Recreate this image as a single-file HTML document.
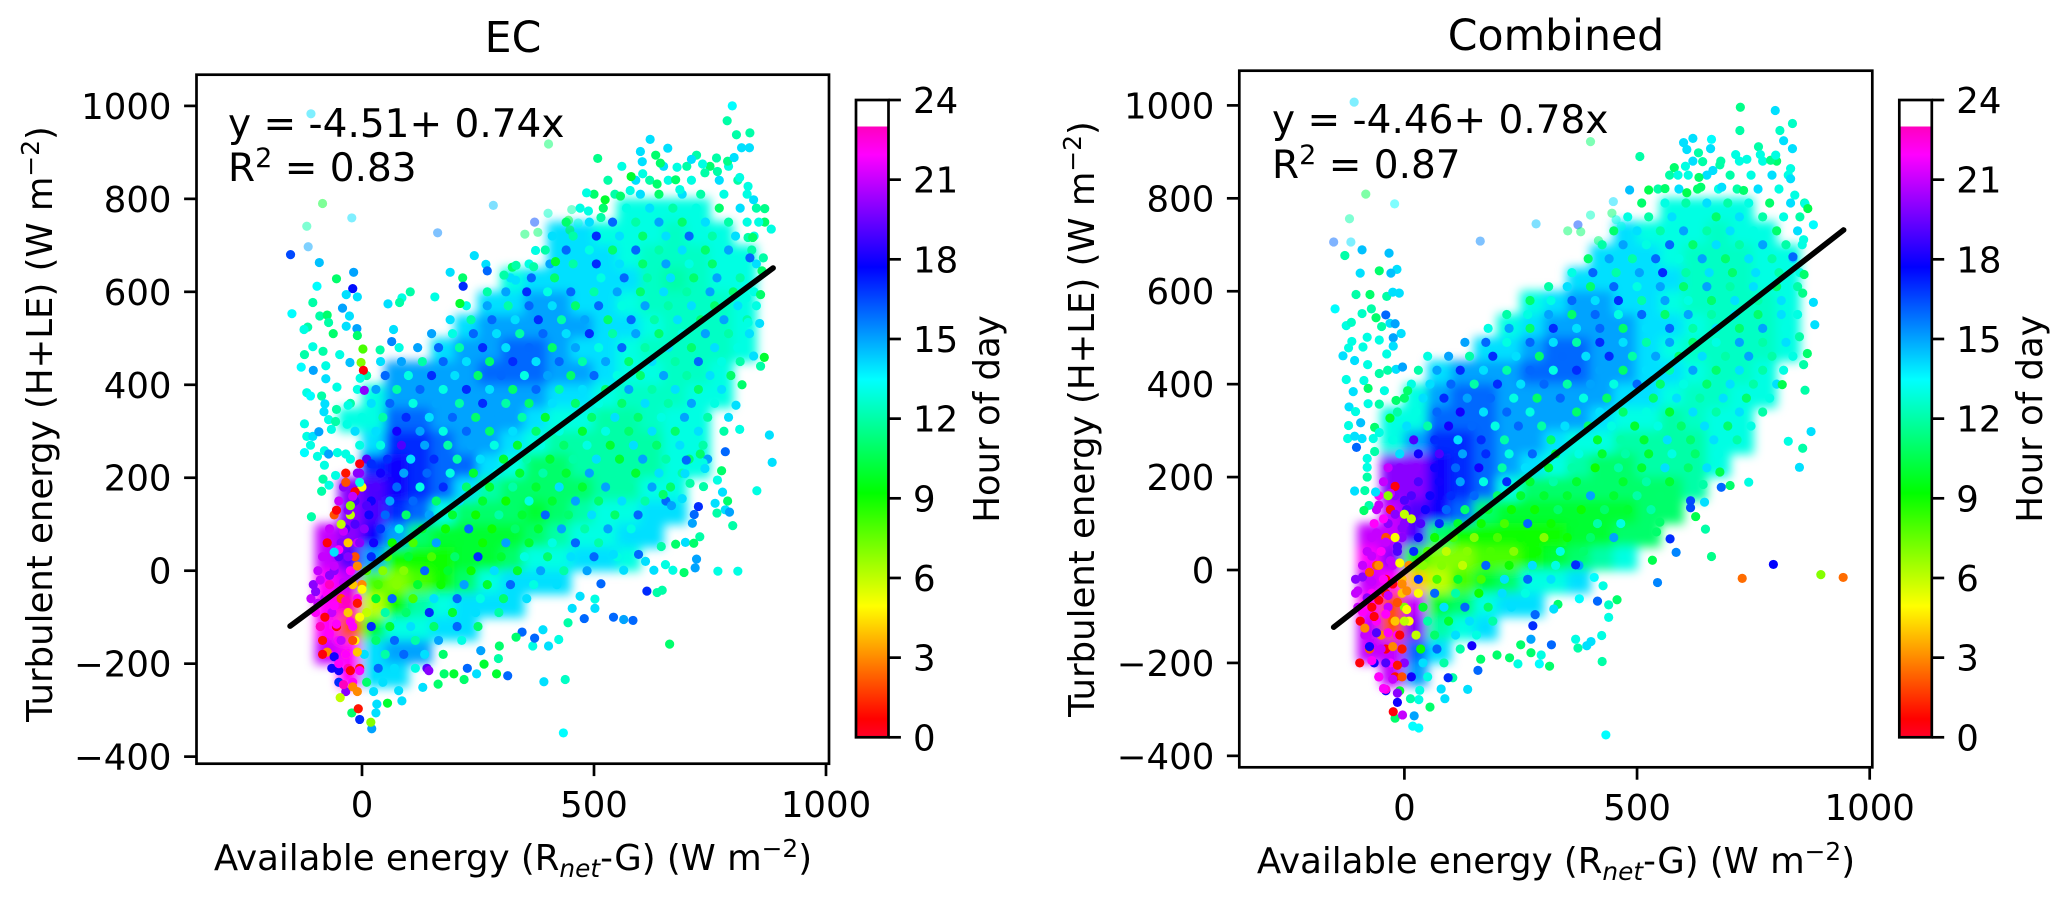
<!DOCTYPE html>
<html><head><meta charset="utf-8"><title>Energy balance closure</title>
<style>
html,body{margin:0;padding:0;background:#fff}
svg{display:block}
text{font-family:"DejaVu Sans","Liberation Sans",sans-serif;fill:#000}
.t{font-size:35.5px}.ti{font-size:42.6px}.an{font-size:39px}
</style></head><body>
<svg id="fig" xmlns="http://www.w3.org/2000/svg" width="2067" height="898" viewBox="0 0 2067 898">
<defs>
<filter id="soft" x="-5%" y="-5%" width="110%" height="110%"><feGaussianBlur stdDeviation="5"/></filter>
<linearGradient id="cmapGrad" x1="0" y1="1" x2="0" y2="0"></linearGradient>
</defs>
<g id="layer-ec"></g>
<g id="layer-combined"></g>
<text class="ti" x="513" y="52" text-anchor="middle">EC</text>
<text class="ti" x="1556" y="50" text-anchor="middle">Combined</text>
<text class="an" x="228" y="137">y = -4.51+ 0.74x</text>
<text class="an" x="228" y="181">R<tspan dy="-14" font-size="27">2</tspan><tspan dy="14"> = 0.83</tspan></text>
<text class="an" x="1272" y="133">y = -4.46+ 0.78x</text>
<text class="an" x="1272" y="178">R<tspan dy="-14" font-size="27">2</tspan><tspan dy="14"> = 0.87</tspan></text>
<text class="t" x="513" y="870" text-anchor="middle">Available energy (R<tspan dy="7" font-size="24.8" font-style="italic">net</tspan><tspan dy="-7">-G) (W m</tspan><tspan dy="-13" font-size="24.8">−2</tspan><tspan dy="13">)</tspan></text>
<text class="t" x="1556" y="873" text-anchor="middle">Available energy (R<tspan dy="7" font-size="24.8" font-style="italic">net</tspan><tspan dy="-7">-G) (W m</tspan><tspan dy="-13" font-size="24.8">−2</tspan><tspan dy="13">)</tspan></text>
<text class="t" transform="translate(52,424) rotate(-90)" text-anchor="middle">Turbulent energy (H+LE) (W m<tspan dy="-13" font-size="24.8">−2</tspan><tspan dy="13">)</tspan></text>
<text class="t" transform="translate(1094,419) rotate(-90)" text-anchor="middle">Turbulent energy (H+LE) (W m<tspan dy="-13" font-size="24.8">−2</tspan><tspan dy="13">)</tspan></text>
<text class="t" transform="translate(999,419) rotate(-90)" text-anchor="middle">Hour of day</text>
<text class="t" transform="translate(2042,419) rotate(-90)" text-anchor="middle">Hour of day</text>
</svg>
<script>
const n=null;
const xTicks=[0,500,1000];
const yTicks=[-400,-200,0,200,400,600,800,1000];
const hourTicks=[0,3,6,9,12,15,18,21,24];
const hourMax=[23];
const ecFit=[-4.51,0.74];
const ecFitRange=[-155,886];
const combinedFit=[-4.46,0.78];
const combinedFitRange=[-152,944];
const gridX=[-125,-75,-25,25,75,125,175,225,275,325,375,425,475,525,575,625,675,725,775,825,875];
const gridY=[775,725,675,625,575,525,475,425,375,325,275,225,175,125,75,25,-25,-75,-125,-175,-225];
const ecDensityHours=[
[n,n,n,n,n,n,n,n,n,n,n,n,n,n,13,13,13,13,n,n,n],
[n,n,n,n,n,n,n,n,n,n,n,14,14,13,13,13,12.5,13,13,n,n],
[n,n,n,n,n,n,n,n,n,n,n,14,14,14,13,12.5,12.5,12.5,13,13,n],
[n,n,n,n,n,n,n,n,n,13,14,14,14,14,14,12.5,12,12.5,13,13,n],
[n,n,n,n,n,n,n,n,14,14,15,15,14,14,13,12.5,12.5,12.5,12.5,13,n],
[n,n,n,n,n,n,n,14,15,15,15,15,15,14,14,13,12.5,12.5,12.5,13,n],
[n,n,n,n,n,n,14,15,15,16,16,15,14,14,13,12.5,12.5,12.5,12.5,13,n],
[n,n,n,n,15,15,15,15,16,16,16,15,15,14,13,13,12.5,12.5,13,n,n],
[n,n,n,13,15,15,15,15,15,15,15,14,14,13,12.5,12.5,12.5,13,13,n,n],
[n,n,13,13,16,16,15,15,15,15,14,13,13,12,12,12.5,13,13,n,n,n],
[n,n,n,14,17,17,16,15,15,14,13,12,12,12,12,12,13,13,n,n,n],
[n,n,n,17,18,17,16,16,14,13,11,11,12,12,12,12,13,13,n,n,n],
[n,n,20,19,18,17,16,14,12,11,11,11,11,12,12,13,13,n,n,n,n],
[n,n,20,19,17,16,13,11,11,11,10,11,12,13,13,14,14,n,n,n,n],
[n,21,20,18,15,11,10,10,10,10,11,12,13,13,14,14,n,n,n,n,n],
[n,21,19,15,9,9,9,10,10,11,13,13,14,14,13,n,n,n,n,n,n],
[n,22,21,8,7,8,9,11,13,14,14,14,n,n,n,n,n,n,n,n,n],
[n,22,23,6,9,12,13,14,14,14,n,n,n,n,n,n,n,n,n,n,n],
[n,22,2,10,13,13,14,14,n,n,n,n,n,n,n,n,n,n,n,n,n],
[n,21,22,14,15,15,n,n,n,n,n,n,n,n,n,n,n,n,n,n,n],
[n,n,22,14,14,n,n,n,n,n,n,n,n,n,n,n,n,n,n,n,n]];
const combinedDensityHours=[
[n,n,n,n,n,n,n,n,n,n,n,n,n,n,13,13,13,13,n,n,n],
[n,n,n,n,n,n,n,n,n,n,n,n,14,13,13,13,12.5,13,13,n,n],
[n,n,n,n,n,n,n,n,n,n,n,14,14,14,13,12.5,12.5,12.5,13,13,n],
[n,n,n,n,n,n,n,n,n,n,14,14,14,14,14,12.5,12.5,12.5,13,13,n],
[n,n,n,n,n,n,n,n,13,14,15,15,14,14,13,12.5,12.5,12.5,12.5,13,n],
[n,n,n,n,n,n,n,13,14,15,15,15,15,14,14,13,12.5,12.5,12.5,13,n],
[n,n,n,n,n,n,14,14,15,16,16,15,15,14,13,12.5,12.5,12.5,12.5,13,n],
[n,n,n,n,14,15,15,15,16,16,16,15,15,14,14,13,12.5,12.5,13,n,n],
[n,n,n,13,15,16,16,15,15,15,15,15,14,14,13,12.5,12.5,13,13,n,n],
[n,n,13,13,16,16,16,15,15,15,15,14,13,13,12,12.5,13,13,n,n,n],
[n,n,13,15,17,17,16,15,15,14,13,13,12,12,12,12,13,13,n,n,n],
[n,n,20,20,18,17,16,15,14,13,12,11,11,12,12,12,13,n,n,n,n],
[n,n,20,20,18,17,16,13,11,11,11,11,11,11,11,12,n,n,n,n,n],
[n,n,21,19,18,16,11,10,10,10,10,10,10,11,11,n,n,n,n,n,n],
[n,21,21,19,11,9,9,9,9,9,10,10,11,11,n,n,n,n,n,n,n],
[n,22,20,9,7,7,8,8,9,10,11,12,13,n,n,n,n,n,n,n,n],
[n,21,22,4,6,8,10,11,13,13,14,n,n,n,n,n,n,n,n,n,n],
[n,22,2,21,10,11,13,14,14,n,n,n,n,n,n,n,n,n,n,n,n],
[n,21,2,20,12,13,14,n,n,n,n,n,n,n,n,n,n,n,n,n,n],
[n,21,21,16,14,n,n,n,n,n,n,n,n,n,n,n,n,n,n,n,n],
[n,n,21,15,n,n,n,n,n,n,n,n,n,n,n,n,n,n,n,n,n]];
const ecFaintPoints=[[-110,983,14],[-85,790,10],[-22,759,14],[-119,741,12],[-116,697,15],[283,786,14.5],[163,727,15.5],[372,750,16.5],[401,769,12.5],[402,918,11],[351,724,11],[379,728,11],[445,754,10],[448,733,10],[452,777,12],[466,748,13]];
const combinedFaintPoints=[[-108,1007,14],[-83,809,10.5],[-21,788,13.5],[-118,756,12],[-152,706,16],[-115,706,14],[163,708,15.5],[283,745,14.5],[373,743,16.5],[400,922,11],[400,764,12.5],[449,793,14],[446,768,11],[455,754,13],[351,730,11],[379,728,11],[417,709,11],[466,740,13]];
const ecFillPoints=[
[560,870,13],[650,870,14],[700,870,12],[750,870,11],[790,870,13],
[530,840,12],[590,840,14],[620,840,12],[660,840,13],[710,840,13],[770,840,14],[810,840,12],
[500,810,11],[545,810,12],[600,810,14],[640,810,11],[690,810,14],[730,810,12],[780,810,13],[830,810,13],
[470,780,13],[520,780,11],[570,780,13],[620,780,14],[670,780,12],[720,780,13],[770,780,11],[815,780,14],[850,780,12],
[440,750,11],[490,750,14],[540,750,16],[590,750,12],[640,750,15],[690,750,11],[740,750,14],[790,750,12],[830,750,13],
[410,720,14],[455,720,12],[505,720,17],[555,720,14],[605,720,11],[655,720,14],[705,720,16],[755,720,12],[805,720,14],[845,720,13],
[395,690,12],[440,690,16],[490,690,13],[540,690,11],[590,690,16],[640,690,12],[690,690,14],[740,690,11],[790,690,15],[840,690,12],
[360,660,13],[405,660,15],[455,660,12],[505,660,17],[555,660,14],[605,660,11],[655,660,15],[705,660,13],[755,660,11],[805,660,13],[850,660,14],
[320,630,14],[365,630,16],[415,630,11],[465,630,14],[515,630,13],[565,630,16],[615,630,12],[665,630,14],[715,630,11],[765,630,15],[815,630,12],
[270,600,12],[310,600,15],[355,600,17],[400,600,13],[450,600,16],[500,600,12],[550,600,15],[600,600,11],[650,600,14],[700,600,12],[750,600,15],[800,600,11],[845,600,13],
[225,570,13],[270,570,15],[315,570,12],[360,570,16],[410,570,14],[460,570,11],[510,570,16],[560,570,13],[610,570,15],[660,570,12],[710,570,14],[760,570,11],[810,570,14],[850,570,13],
[190,540,14],[235,540,12],[280,540,16],[330,540,14],[380,540,17],[430,540,12],[480,540,15],[530,540,11],[580,540,16],[630,540,12],[680,540,14],[730,540,11],[780,540,15],[830,540,12],
[150,510,15],[195,510,13],[240,510,16],[290,510,14],[340,510,12],[390,510,16],[440,510,14],[490,510,17],[540,510,12],[590,510,15],[640,510,11],[690,510,13],[740,510,15],[790,510,12],[835,510,14],
[80,480,13],[120,480,15],[165,480,16],[210,480,12],[260,480,17],[310,480,14],[360,480,16],[410,480,11],[460,480,15],[510,480,13],[560,480,16],[610,480,12],[660,480,14],[710,480,11],[760,480,14],[810,480,13],
[40,450,14],[85,450,15],[130,450,12],[175,450,16],[225,450,14],[275,450,11],[325,450,17],[375,450,14],[425,450,16],[475,450,12],[525,450,15],[575,450,11],[625,450,14],[675,450,12],[725,450,16],[775,450,13],[815,450,12],
[10,420,12],[50,420,16],[100,420,13],[150,420,17],[200,420,14],[250,420,11],[300,420,16],[350,420,13],[400,420,15],[450,420,11],[500,420,16],[550,420,13],[600,420,11],[650,420,15],[700,420,12],[750,420,14],[795,420,11],
[-10,390,13],[30,390,15],[75,390,12],[125,390,16],[175,390,13],[225,390,17],[275,390,14],[325,390,11],[375,390,16],[425,390,12],[475,390,14],[525,390,11],[575,390,15],[625,390,12],[675,390,14],[725,390,11],[775,390,14],
[-25,360,12],[20,360,14],[60,360,16],[110,360,13],[160,360,15],[210,360,12],[260,360,17],[310,360,12],[360,360,11],[410,360,14],[460,360,11],[510,360,13],[560,360,11],[610,360,14],[660,360,12],[710,360,15],[760,360,13],
[0,330,13],[45,330,12],[95,330,17],[145,330,14],[195,330,16],[245,330,11],[295,330,15],[345,330,12],[395,330,10],[445,330,13],[495,330,11],[545,330,14],[595,330,11],[645,330,13],[695,330,15],[745,330,12],[790,330,14],
[-15,300,14],[30,300,14],[75,300,18],[125,300,15],[175,300,13],[225,300,16],[275,300,11],[325,300,14],[375,300,11],[425,300,13],[475,300,10],[525,300,13],[575,300,11],[625,300,14],[675,300,11],[725,300,14],[780,300,12],
[-5,270,13],[40,270,13],[85,270,19],[135,270,15],[185,270,12],[235,270,15],[285,270,13],[335,270,10],[385,270,13],[435,270,11],[485,270,13],[535,270,10],[585,270,14],[635,270,11],[685,270,14],[735,270,12],
[-25,240,13],[10,240,19],[55,240,17],[105,240,14],[155,240,17],[205,240,12],[255,240,14],[305,240,10],[355,240,12],[405,240,10],[455,240,12],[505,240,14],[555,240,10],[605,240,15],[655,240,12],[705,240,11],[745,240,15],
[-35,210,1],[-5,210,20],[40,210,18],[90,210,15],[140,210,16],[190,210,13],[240,210,10],[290,210,13],[340,210,10],[390,210,12],[440,210,10],[490,210,15],[540,210,12],[590,210,10],[640,210,14],[690,210,12],
[-40,180,20],[0,180,5],[30,180,19],[75,180,16],[125,180,13],[175,180,17],[225,180,11],[275,180,10],[325,180,12],[375,180,10],[425,180,14],[475,180,10],[525,180,15],[575,180,12],[625,180,15],[665,180,11],
[-50,150,21],[-15,150,19],[20,150,18],[60,150,15],[110,150,16],[160,150,11],[210,150,14],[260,150,10],[310,150,9],[360,150,13],[410,150,10],[460,150,15],[510,150,11],[560,150,14],[610,150,12],[655,150,16],
[-60,120,2],[-25,120,6],[15,120,18],[50,120,16],[95,120,11],[145,120,15],[195,120,10],[245,120,9],[295,120,12],[345,120,10],[395,120,16],[445,120,11],[495,120,14],[545,120,11],[595,120,16],
[-70,90,21],[-35,90,19],[5,90,20],[40,90,17],[80,90,13],[130,90,10],[180,90,9],[230,90,16],[280,90,9],[330,90,11],[380,90,10],[430,90,15],[480,90,12],[530,90,15],[580,90,13],
[-75,60,0.5],[-45,60,20],[-10,60,21],[25,60,18],[65,60,9],[110,60,8],[160,60,15],[210,60,10],[260,60,9],[310,60,15],[360,60,10],[410,60,13],[460,60,16],[510,60,12],
[-85,30,21],[-50,30,19],[-15,30,2],[20,30,17],[55,30,8],[100,30,10],[150,30,8],[200,30,11],[250,30,17],[300,30,10],[350,30,13],[400,30,11],[450,30,14],[500,30,16],[550,30,13],
[-95,0,21],[-60,0,20],[-25,0,22],[10,0,8],[45,0,7],[90,0,7],[135,0,16],[185,0,10],[235,0,9],[285,0,14],[335,0,10],[385,0,15],[435,0,12],[485,0,15],
[-105,-30,20],[-70,-30,23],[-35,-30,21],[0,-30,3],[35,-30,8],[75,-30,7],[120,-30,10],[170,-30,9],[220,-30,15],[270,-30,10],[320,-30,16],[370,-30,13],[420,-30,14],
[-110,-60,21],[-80,-60,21],[-45,-60,2],[-10,-60,22],[30,-60,10],[65,-60,16],[110,-60,8],[155,-60,14],[205,-60,16],[255,-60,13],[305,-60,11],[355,-60,14],
[-100,-90,22],[-65,-90,21],[-30,-90,4],[10,-90,6],[50,-90,12],[95,-90,11],[145,-90,17],[195,-90,10],[245,-90,14],[295,-90,12],
[-90,-120,23],[-55,-120,0.5],[-20,-120,22],[20,-120,17],[60,-120,10],[105,-120,14],[155,-120,11],[205,-120,16],[250,-120,11],
[-85,-150,1],[-50,-150,22],[-15,-150,5],[30,-150,11],[70,-150,16],[115,-150,12],[165,-150,15],[215,-150,13],
[-70,-180,22],[-35,-180,4],[5,-180,14],[50,-180,12],[90,-180,16],[135,-180,14],[175,-180,11],
[-65,-210,18],[-30,-210,23],[-5,-210,1],[35,-210,16],[70,-210,14],[115,-210,13],[140,-210,19],
[-50,-240,17],[-20,-240,22],[10,-240,11],[45,-240,14],[-35,-260,20],[-10,-260,3],[25,-260,14]];
const ecPoints=[
[-154,680,16.5],[-92,663,14.5],[-18,642,15],[-55,628,11],[-20,607,17.5],[-97,612,13.5],[-34,594,14],[-10,589,14],[-106,577,12],[-42,565,15],[-27,548,14],[-151,553,13.5],[-91,548,12],[-75,550,11],[-72,534,12],[-117,524,12],[-125,519,13],[-34,526,14],[-11,521,15],[-62,510,11],[-10,506,11],[-106,482,13],[-84,472,12],[-124,465,12],[-48,465,13],[2,477,8],[39,475,12],[64,493,15.5],[68,519,14],[-2,448,7],[3,431,0.5],[-131,438,13.5],[-105,431,15],[-78,441,13],[-26,448,14.5],[-78,413,14],[-119,383,13],[-111,376,13.5],[-87,376,12],[-54,395,13],[-4,414,13],[5,388,20],[-80,359,14],[-30,356,13],[-82,342,14],[-72,325,13],[-124,316,13],[-55,347,12],[-32,315,13],[-57,321,12],[-119,289,13],[-106,289,14],[-93,299,15],[-66,304,13],[-124,254,13.5],[-111,270,13],[-96,246,13],[-81,258,13],[-72,251,15],[-81,227,13],[-53,254,13],[-35,251,13],[-84,197,12],[-87,171,12],[-71,184,13],[-57,205,13],[-109,116,12],
[104,600,12],[86,587,13],[81,577,12],[56,574,14],[157,589,13],[190,642,14],[217,630,11],[218,612,17],[211,575,10],[242,678,14],[267,659,14],[270,645,16],[306,636,12],[324,653,11],[332,657,12],[331,625,14],[374,689,13],[370,654,12],[417,665,10],[484,813,13],[508,887,11.5],[621,928,14],[798,1000,13.5],[787,968,12],[807,938,12],[836,942,12],[818,910,14],[835,910,14],[659,909,14],[600,902,14],[604,880,14],[633,894,11],[643,877,11],[721,894,12],[710,885,14],[764,888,12],[734,875,13],[788,881,11.5],[802,889,14],[679,868,13],[580,848,10],[605,854,13],[636,832,11],[676,841,11],[685,820,13],[766,859,12],[739,856,12],[814,846,13],[524,798,10],[557,806,11],[578,818,13],[488,774,13],[515,760,12],
[882,735,13],[868,779,11.5],[868,750,11],[844,798,14],[832,827,13],[832,717,12],[865,673,12],[836,673,16],[862,645,11],[859,594,11],[855,750,13],[842,717,11],[828,587,13],[832,534,13],[857,532,14],[844,462,14],[867,459,10],[859,440,12],[819,400,11],[806,356,14],[814,304,13],[878,292,14],[884,233,14],[851,172,13],
[783,256,16],[699,238,16],[775,215,11],[729,251,11],[735,232,13],[739,220,14],[696,209,14],[707,188,12],[736,181,12],[766,195,13],[777,169,14],[761,145,14],[788,150,11],[783,131,14],[765,124,12],[792,126,15],[799,97,12],[728,73,12],[716,121,16],[725,138,17],[712,102,15],[690,155,14],[667,140,15],[649,164,11],[697,61,14],[715,59,11],[676,57,11],[645,52,12],[721,25,15],[718,6,15],[694,-4,11],[670,1,13],[654,13,13],[629,1,14],[611,20,14],[596,35,16],[767,-1,13],[810,-1,13],[614,-44,17],[647,-42,12],[636,-47,12],[663,-158,11],[564,1,14],[542,35,14],[542,-100,16],[564,-105,15],[584,-107,16],[515,-28,16],[502,-61,13],[479,-103,16],[502,-81,14],[453,-81,14],[470,-55,14],[444,-112,12],[424,-148,13],[402,-162,14],[368,-162,13],[372,-145,16],[390,-127,14],[345,-132,16],[332,-143,11],[296,-162,11],[290,-222,10],[314,-226,16],[263,-201,10],[294,-189,12],[392,-239,14],[438,-234,12.5],[434,-349,13.5],[220,-234,11],[247,-222,14],[198,-222,10],[177,-222,11],[164,-244,11],[144,-215,20],[86,-280,14],[55,-285,10],[131,-251,14],[79,-258,14],[32,-287,14],[30,-306,14],[21,-340,15],[19,-326,7],[-5,-320,17],[-22,-306,11],[-8,-297,1],[-47,-273,6],[227,-210,16],[256,-172,15],
[-15,170,0.5],[-5,190,13],[-30,130,20],[-15,100,19],[-40,85,21],[10,140,19],[-5,60,20],[-50,45,22],[-30,30,20],[-10,10,3],[-60,10,21],[-70,-10,20],[-90,-20,21],[-100,-45,20],[-75,-50,22],[-40,-25,21],[-20,-30,4],[0,-40,5],[-95,-70,21],[-60,-75,22],[-35,-65,23],[-10,-70,1],[-80,-100,0.5],[-55,-115,22],[-25,-110,22],[-5,-100,5],[-70,-135,22],[-45,-150,21],[-20,-150,2],[-75,-175,3],[-60,-185,18],[-35,-180,22],[-10,-175,4],[-85,-180,0.5],[-50,-215,18],[-25,-215,0.5],[-5,-215,22],[-40,-245,23],[-20,-250,3],[-50,-200,22],[-60,40,14],[-30,60,4],[-45,100,6],[-55,130,0.5],[-20,160,21],[-35,190,2],[-10,210,20],[-5,230,0.5],[20,230,17],[-25,140,7]];
const combinedFillPoints=[
[620,880,14],[680,880,12],[720,880,13],[770,880,13],[800,880,11],
[570,850,12],[610,850,13],[650,850,14],[700,850,12],[745,850,13],[790,850,14],[825,850,13],
[545,820,12],[590,820,14],[630,820,11],[675,820,13],[715,820,12],[760,820,14],[805,820,13],
[510,790,11],[560,790,13],[605,790,12],[650,790,14],[695,790,12],[740,790,13],[785,790,11],[830,790,14],[860,790,12],
[480,760,13],[525,760,12],[575,760,14],[625,760,13],[670,760,11],[720,760,14],[770,760,12],[815,760,13],[850,760,12],
[450,730,11],[500,730,14],[550,730,12],[600,730,15],[650,730,12],[700,730,14],[750,730,13],[800,730,11],[845,730,14],
[425,700,12],[470,700,15],[520,700,13],[570,700,16],[620,700,11],[670,700,14],[720,700,12],[770,700,15],[820,700,12],[855,700,13],
[395,670,11],[440,670,15],[490,670,12],[540,670,16],[590,670,13],[640,670,15],[690,670,11],[740,670,14],[790,670,12],[835,670,14],
[360,640,13],[405,640,16],[455,640,12],[505,640,15],[555,640,17],[605,640,12],[655,640,14],[705,640,11],[755,640,14],[805,640,12],[850,640,13],
[310,610,12],[350,610,14],[400,610,11],[450,610,16],[500,610,13],[550,610,15],[600,610,11],[650,610,15],[700,610,12],[750,610,14],[800,610,11],[845,610,12],
[270,580,11],[315,580,13],[360,580,16],[410,580,14],[460,580,17],[510,580,12],[560,580,15],[610,580,13],[660,580,11],[710,580,14],[760,580,12],[810,580,14],
[220,550,12],[265,550,13],[310,550,15],[360,550,11],[410,550,16],[460,550,13],[510,550,16],[560,550,11],[610,550,15],[660,550,12],[710,550,14],[760,550,11],[810,550,14],[845,550,13],
[180,520,13],[225,520,15],[270,520,11],[320,520,17],[370,520,14],[420,520,16],[470,520,11],[520,520,14],[570,520,16],[620,520,12],[670,520,14],[720,520,11],[770,520,15],[820,520,13],
[130,490,15],[175,490,16],[220,490,13],[270,490,16],[320,490,14],[370,490,12],[420,490,17],[470,490,14],[520,490,12],[570,490,15],[620,490,11],[670,490,13],[720,490,15],[770,490,12],[820,490,14],
[50,460,13],[95,460,15],[140,460,12],[190,460,17],[240,460,14],[290,460,11],[340,460,16],[390,460,14],[440,460,17],[490,460,12],[540,460,15],[590,460,11],[640,460,14],[690,460,12],[740,460,15],[790,460,12],[835,460,13],
[30,430,12],[70,430,15],[120,430,17],[170,430,14],[220,430,12],[270,430,16],[320,430,13],[370,430,17],[420,430,15],[470,430,11],[520,430,14],[570,430,12],[620,430,15],[670,430,11],[720,430,14],[770,430,12],[815,430,13],
[15,400,13],[55,400,14],[100,400,16],[150,400,12],[200,400,17],[250,400,14],[300,400,16],[350,400,12],[400,400,15],[450,400,13],[500,400,16],[550,400,11],[600,400,13],[650,400,11],[700,400,14],[750,400,12],[800,400,14],
[0,370,11],[40,370,14],[85,370,17],[135,370,15],[185,370,16],[235,370,13],[285,370,11],[335,370,16],[385,370,13],[435,370,11],[485,370,14],[535,370,11],[585,370,14],[635,370,12],[685,370,14],[735,370,11],[785,370,13],
[-15,340,12],[25,340,13],[70,340,16],[120,340,18],[170,340,14],[220,340,16],[270,340,13],[320,340,15],[370,340,11],[420,340,14],[470,340,11],[520,340,13],[570,340,10],[620,340,14],[670,340,12],[720,340,14],[770,340,12],
[5,310,14],[50,310,12],[95,310,18],[145,310,16],[195,310,13],[245,310,16],[295,310,12],[345,310,14],[395,310,11],[445,310,13],[495,310,10],[545,310,13],[595,310,11],[645,310,14],[695,310,11],[745,310,13],
[-25,280,13],[20,280,19],[65,280,17],[115,280,14],[165,280,17],[215,280,12],[265,280,15],[315,280,11],[365,280,13],[415,280,10],[465,280,12],[515,280,10],[565,280,14],[615,280,11],[665,280,14],[715,280,12],
[-10,250,14],[30,250,18],[75,250,19],[125,250,15],[175,250,17],[225,250,13],[275,250,16],[325,250,10],[375,250,13],[425,250,10],[475,250,12],[525,250,10],[575,250,13],[625,250,11],[675,250,13],
[-35,220,21],[-10,220,20],[25,220,20],[65,220,18],[110,220,16],[160,220,18],[210,220,12],[260,220,14],[310,220,10],[360,220,12],[410,220,9],[460,220,12],[510,220,10],[560,220,14],[610,220,11],[650,220,14],
[-45,190,21],[-10,190,20],[30,190,19],[75,190,18],[120,190,15],[170,190,13],[220,190,17],[270,190,10],[320,190,12],[370,190,10],[420,190,11],[470,190,10],[520,190,12],[570,190,10],
[-55,160,22],[-20,160,20],[15,160,19],[55,160,18],[100,160,17],[150,160,16],[200,160,11],[250,160,10],[300,160,10],[350,160,10],[400,160,15],[450,160,10],[500,160,12],[550,160,11],
[-60,130,21],[-30,130,1],[5,130,19],[45,130,18],[90,130,16],[130,130,11],[180,130,10],[230,130,9],[280,130,9],[330,130,11],[380,130,9],[430,130,11],[480,130,10],[530,130,12],
[-65,100,22],[-35,100,20],[0,100,20],[35,100,19],[75,100,17],[115,100,10],[165,100,9],[215,100,8],[265,100,16],[315,100,9],[365,100,10],[415,100,12],[465,100,13],
[-70,70,21],[-40,70,2],[-5,70,20],[30,70,18],[65,70,9],[105,70,8],[150,70,7],[200,70,8],[250,70,9],[300,70,7],[350,70,9],[400,70,11],[450,70,15],
[-80,40,21],[-50,40,22],[-15,40,19],[20,40,17],[50,40,8],[90,40,6],[135,40,7],[185,40,8],[235,40,7],[285,40,9],[335,40,13],[385,40,11],
[-90,10,21],[-60,10,2],[-25,10,21],[10,10,3],[40,10,7],[80,10,7],[125,10,6],[175,10,16],[225,10,9],[275,10,14],[325,10,13],[375,10,15],
[-105,-20,20],[-75,-20,21],[-40,-20,0.5],[-5,-20,4],[30,-20,17],[70,-20,8],[115,-20,10],[165,-20,8],[215,-20,14],[265,-20,16],[315,-20,14],
[-105,-50,21],[-70,-50,22],[-40,-50,1],[-5,-50,4],[30,-50,5],[65,-50,16],[110,-50,12],[160,-50,9],[210,-50,14],[260,-50,13],
[-100,-80,21],[-70,-80,0.5],[-35,-80,21],[0,-80,7],[40,-80,10],[85,-80,14],[130,-80,16],[180,-80,11],[230,-80,14],
[-95,-110,0.5],[-60,-110,22],[-25,-110,2],[10,-110,5],[50,-110,12],[95,-110,10],[140,-110,14],[190,-110,12],
[-85,-140,21],[-50,-140,3],[-15,-140,22],[25,-140,6],[65,-140,11],[110,-140,14],[155,-140,13],
[-75,-170,2],[-40,-170,0.5],[-5,-170,3],[35,-170,9],[70,-170,16],[120,-170,12],
[-65,-200,18],[-30,-200,22],[0,-200,20],[40,-200,14],[85,-200,12],
[-55,-230,21],[-20,-230,1],[15,-230,18],[50,-230,13],[-40,-260,18],[-10,-260,10]];
const combinedPoints=[
[722,996,11.5],[797,989,14],[721,946,12],[834,961,12.5],[807,946,12.5],[815,924,14],[834,907,14],[620,929,14],[600,920,14],[607,905,14],[660,927,13.5],[658,907,14],[506,890,12],[632,898,12],[641,879,12],[712,894,13],[736,884,13],[761,911,12],[765,894,13],[787,882,11.5],[798,893,13],[580,866,11],[604,869,13],[588,850,13],[678,872,12],[663,860,14],[633,845,11],[830,864,13],[830,842,14],[484,818,14.5],[525,818,10.5],[560,821,11],[607,812,10.5],[682,824,14],[637,824,11],[729,817,11],[861,788,13],[867,778,10.5],[839,807,13],[879,743,13.5],[858,711,13],[835,674,16],[859,636,11],[856,596,11.5],[879,576,14],[882,528,14],[849,502,12],[866,466,11],[858,442,12],[861,387,12],[812,399,10.5],[874,298,14],[825,277,13],[856,262,12],[849,221,14],[678,211,10.5],[740,189,13],[700,182,11],[681,178,16],[642,184,12],[615,149,16.5],[615,134,16.5],[645,146,14],[626,115,10.5],[647,88,12],[549,103,11],[542,82,11],[584,38,15.5],[571,67,17],[660,29,11.5],[533,21,10.5],[544,-27,15.5],[726,-18,2.5],[793,12,17.7],[895,-10,7],[943,-16,2.5],[368,11,17],[433,-355,13.5],[425,-197,12],[424,-141,13],[439,-102,13],[457,-64,11],[439,-75,12.5],[415,-67,16],[427,-34,13],[408,-16,13.5],[376,-62,13.5],[330,-74,11],[321,-84,14],[316,-161,16],[281,-96,16],[276,-120,17],[272,-149,15],[250,-161,11],[294,-183,13],[272,-178,11],[290,-202,13.5],[312,-207,11],[244,-202,13],[226,-189,11],[199,-183,11],[401,-154,14],[392,-163,14],[373,-168,12],[368,-149,13],[136,-257,14],[158,-216,16],[164,-192,11],[145,-163,18],[104,-232,12],[94,-232,17],[87,-277,14],[79,-256,14],[55,-295,11],[33,-259,13],[31,-279,13],[13,-277,12],[21,-314,15],[31,-340,13.5],[18,-336,13.5],[-20,-319,11],[-24,-305,0.5],[-4,-312,21],[-40,-257,22.5],[-96,-200,0.5],
[-149,562,13.5],[-128,677,12],[-91,689,14.5],[-33,682,14.5],[-54,644,11],[-16,647,14],[-29,639,14.5],[-95,639,14],[-104,593,12],[-74,593,11],[-38,589,12],[-25,598,14],[-11,596,14],[-91,552,12.5],[-71,562,12],[-40,549,16],[-61,543,11],[-125,526,13],[-114,533,12.5],[-31,531,14],[-49,524,12],[-20,530,15],[-7,509,14],[-24,500,15],[-80,501,13],[-54,495,13],[-113,492,13],[-120,478,13],[-132,461,14],[-24,482,14],[-107,451,14],[-38,465,13],[-89,480,13],[-79,442,13],[-125,410,13],[-87,408,13],[-110,384,14],[-78,391,11],[-36,430,12],[-18,432,14],[-54,423,12],[-4,437,15],[7,386,11],[-43,386,13],[-119,351,14],[-105,341,13],[-78,358,13],[-54,357,12],[-18,365,11],[-31,327,10],[-120,311,13],[-94,317,14.5],[-64,307,11],[-54,296,13],[-122,283,13],[-107,288,14],[-91,283,14],[-67,283,13],[-103,264,16],[-64,255,12],[-80,240,13],[-80,221,13],[-80,200,12],[-107,170,14],[-85,171,12],[-62,168,14],[-76,139,12],[-87,128,11],
[-20,180,0.5],[-30,165,21],[-55,140,21],[-45,110,22],[-20,120,20],[0,150,19],[15,110,6],[-5,90,20],[-60,80,21],[-40,60,21],[-15,50,19],[-70,30,21],[-55,10,3],[-30,20,21],[-10,15,5],[-90,-15,20],[-70,-25,21],[-45,-20,22],[-25,-30,0.5],[-5,-30,3],[5,-45,3],[-100,-45,21],[-80,-60,20],[-55,-65,0.5],[-35,-55,21],[-15,-70,2],[5,-85,5],[-90,-90,22],[-65,-100,0.5],[-40,-95,22],[-20,-110,4],[0,-110,6],[-85,-125,3],[-60,-135,19],[-35,-135,22],[-10,-140,0.5],[-75,-165,18],[-50,-170,21],[-25,-165,3],[-5,-170,1],[-70,-195,22],[-40,-200,19],[-15,-205,1],[-55,-230,22],[-25,-235,21],[-5,-230,2],[-45,-255,22],[-15,-265,20],[-15,-285,18],[-35,160,7],[0,120,6],[-20,70,5],[-75,-5,2]];
const cmapPos=[0,0.03,0.215,0.4,0.586,0.77,0.954,1];
const cmapRed=[1,1,1,0,0,0,1,1];
const cmapGreen=[0,0,1,1,1,0,0,0];
const cmapBlue=[0.16,0,0,0,1,1,1,0.75];

const NS='http://www.w3.org/2000/svg';
function mk(tag,attrs,parent){const e=document.createElementNS(NS,tag);for(const k in attrs)e.setAttribute(k,attrs[k]);parent.appendChild(e);return e;}
function cmapAt(f){f=Math.max(0,Math.min(1,f));let i=0;while(i<cmapPos.length-2&&f>cmapPos[i+1])i++;const t=(f-cmapPos[i])/(cmapPos[i+1]-cmapPos[i]);const c=a=>Math.round(255*(a[i]+(a[i+1]-a[i])*t));return 'rgb('+c(cmapRed)+','+c(cmapGreen)+','+c(cmapBlue)+')';}
function hourColor(h){return cmapAt(h/hourMax[0]);}
const grad=document.getElementById('cmapGrad');
cmapPos.forEach(function(p){mk('stop',{offset:p*hourMax[0]/24,'stop-color':cmapAt(p)},grad);});
mk('stop',{offset:hourMax[0]/24,'stop-color':'#fff'},grad);
mk('stop',{offset:1,'stop-color':'#fff'},grad);
function fmt(v){return v<0?'\u2212'+(-v):''+v;}

function drawPanel(id,prefix,G,grid,faint,fill,pts,fit,range){
  const root=document.getElementById(id);
  const sx=v=>G.x0+G.xs*v, sy=v=>G.y0-G.ys*v;
  const dens=mk('g',{filter:'url(#soft)'},root);
  
  
  grid.forEach(function(row,r){row.forEach(function(h,c){
    if(h===null)return;
    const rc=mk('rect',{x:sx(gridX[c]-25)-.5,y:sy(gridY[r]+25)-.5,width:G.xs*50+1,height:G.ys*50+1,fill:hourColor(h)},dens);
    
    
  });});
  faint.forEach(function(p){
    const d=mk('circle',{cx:sx(p[0]),cy:sy(p[1]),r:4.6,fill:hourColor(p[2]),opacity:.5},root);
    
    
  });
  fill.concat(pts).forEach(function(p){
    const d=mk('circle',{cx:sx(p[0]),cy:sy(p[1]),r:4.6,fill:hourColor(p[2])},root);
    
    
  });
  const ln=mk('line',{x1:sx(range[0]),y1:sy(fit[0]+fit[1]*range[0]),x2:sx(range[1]),y2:sy(fit[0]+fit[1]*range[1]),stroke:'#000','stroke-width':5.6,'stroke-linecap':'round'},root);
  
  
  const box=mk('rect',{x:G.l,y:G.t,width:G.r-G.l,height:G.b-G.t,fill:'none',stroke:'#000','stroke-width':2.7},root);
  
  
  xTicks.forEach(function(v){
    const t=mk('line',{x1:sx(v),x2:sx(v),y1:G.b,y2:G.b+12.4,stroke:'#000','stroke-width':2.7},root);
    
    
    const l=mk('text',{x:sx(v),y:G.xl,'text-anchor':'middle',class:'t'},root);
    l.textContent=fmt(v);
    
    
  });
  yTicks.forEach(function(v){
    const t=mk('line',{x1:G.l-12.4,x2:G.l,y1:sy(v),y2:sy(v),stroke:'#000','stroke-width':2.7},root);
    
    
    const l=mk('text',{x:G.l-25,y:sy(v)+13,'text-anchor':'end',class:'t'},root);
    l.textContent=fmt(v);
    
    
  });
  const cbT=100,cbB=737.3,sh=v=>cbB-(cbB-cbT)*v/24;
  const cb=mk('rect',{x:G.cl,y:cbT,width:G.cw,height:cbB-cbT,fill:'url(#cmapGrad)',stroke:'#000','stroke-width':2.7},root);
  
  
  hourTicks.forEach(function(v){
    const t=mk('line',{x1:G.cl+G.cw,x2:G.cl+G.cw+12.4,y1:sh(v),y2:sh(v),stroke:'#000','stroke-width':2.7},root);
    
    
    const l=mk('text',{x:G.cl+G.cw+24.5,y:sh(v)+13,class:'t'},root);
    l.textContent=''+v;
    
    
  });
}
drawPanel('layer-ec','ec',{l:196.5,r:829,t:74.7,b:763.7,x0:362,xs:0.464,y0:570.7,ys:0.4648,xl:817,cl:856,cw:32.5},ecDensityHours,ecFaintPoints,ecFillPoints,ecPoints,ecFit,ecFitRange);
drawPanel('layer-combined','combined',{l:1239.3,r:1872.3,t:70.7,b:767.3,x0:1404.4,xs:0.4653,y0:570,ys:0.4646,xl:820,cl:1899.3,cw:32.5},combinedDensityHours,combinedFaintPoints,combinedFillPoints,combinedPoints,combinedFit,combinedFitRange);
</script>
</body></html>
